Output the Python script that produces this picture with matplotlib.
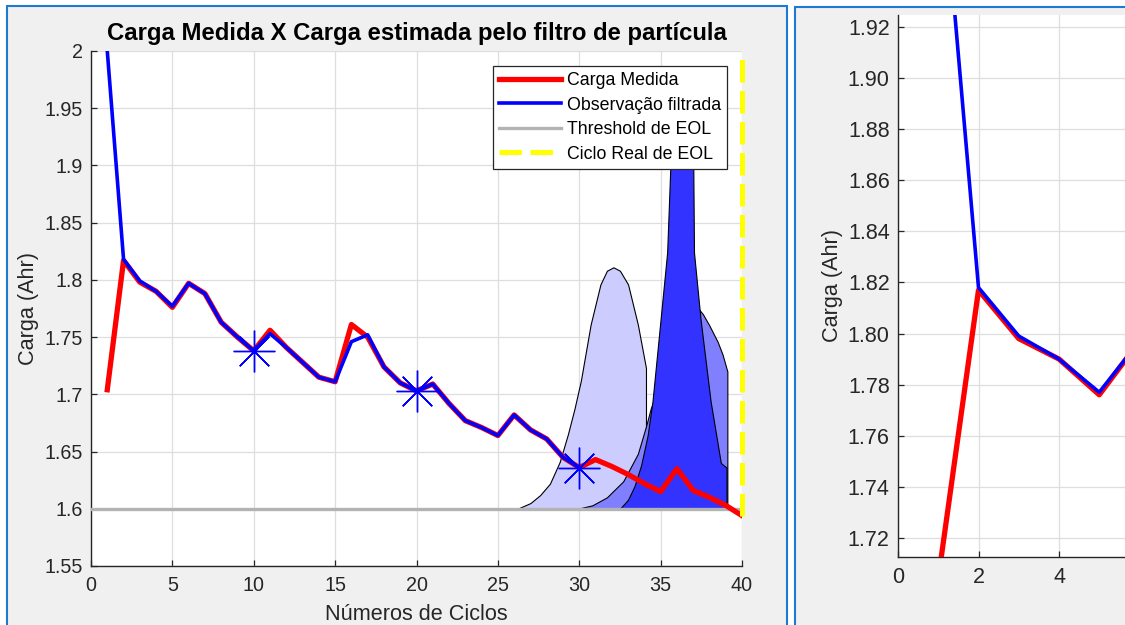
import numpy as np
import matplotlib.pyplot as plt
from matplotlib.patches import Rectangle

# ---------------- data ----------------
cycles = np.arange(1, 41)

# measured capacity (Ahr) per cycle
carga_medida = [1.704, 1.817, 1.798, 1.790, 1.776, 1.797, 1.788, 1.763, 1.750, 1.738,
                1.756, 1.741, 1.728, 1.715, 1.711, 1.761, 1.750, 1.724, 1.710, 1.703,
                1.709, 1.692, 1.677, 1.671, 1.664, 1.682, 1.669, 1.661, 1.645, 1.636,
                1.643, 1.637, 1.630, 1.622, 1.615, 1.635, 1.616, 1.610, 1.603, 1.594]

# particle-filter output, available up to cycle 30
ciclos_filtro = np.arange(1, 31)
obs_filtrada = [2.000, 1.818, 1.799, 1.790, 1.777, 1.797, 1.788, 1.763, 1.750, 1.738,
                1.753, 1.741, 1.728, 1.715, 1.711, 1.746, 1.752, 1.724, 1.710, 1.703,
                1.709, 1.692, 1.677, 1.671, 1.664, 1.682, 1.669, 1.661, 1.645, 1.636]

# prediction instants (asterisks)
ciclos_pred = [10, 20, 30]
carga_pred = [1.738, 1.703, 1.636]

threshold_eol = 1.60
ciclo_real_eol = 40
eol_span = [1.594, 2.0]

# EOL probability densities, drawn on top of the threshold line
pdf1_x = [26.2, 27.0, 27.6, 28.2, 28.8, 29.3, 29.7, 30.1, 30.7, 31.3, 31.7, 32.1,
          32.5, 33.0, 33.6, 34.1, 34.1]
pdf1_y = [1.600, 1.605, 1.612, 1.622, 1.641, 1.665, 1.687, 1.712, 1.761, 1.796, 1.808, 1.811,
          1.808, 1.796, 1.761, 1.723, 1.600]

pdf2_x = [29.9, 30.8, 31.7, 32.7, 33.6, 34.1, 34.4, 34.8, 35.2, 35.6, 36.2, 36.8,
          37.2, 37.6, 38.0, 38.5, 38.8, 39.1, 39.1]
pdf2_y = [1.600, 1.603, 1.610, 1.624, 1.648, 1.672, 1.688, 1.702, 1.725, 1.748, 1.772, 1.782,
          1.777, 1.770, 1.760, 1.746, 1.735, 1.720, 1.600]

pdf3_x = [32.5, 33.0, 33.4, 33.8, 34.2, 34.5, 35.0, 35.4, 35.6, 35.8, 36.3, 36.8,
          37.0, 37.05, 37.45, 38.07, 38.7, 39.05, 39.05]
pdf3_y = [1.600, 1.608, 1.620, 1.638, 1.664, 1.694, 1.766, 1.824, 1.900, 1.940, 1.965, 1.950,
          1.910, 1.824, 1.766, 1.694, 1.640, 1.636, 1.600]

# ---------------- style ----------------
W, H = 1125, 625
plt.rcParams['font.family'] = ['Liberation Sans', 'DejaVu Sans']
plt.rcParams['axes.unicode_minus'] = False

BG = '#f0f0f0'
WIN_EDGE = '#1c7ad2'
AX_COLOR = '#262626'
GRID = '#dedede'


def fx(px):
    return px / W


def fy(py):
    return 1 - py / H


def style_axes(ax, tick_size):
    ax.set_facecolor('white')
    for s in ('top', 'right'):
        ax.spines[s].set_visible(False)
    for s in ('left', 'bottom'):
        ax.spines[s].set_color(AX_COLOR)
        ax.spines[s].set_linewidth(1.0)
    ax.tick_params(direction='in', length=4, width=0.9, colors=AX_COLOR,
                   labelsize=tick_size, labelcolor='#262626')
    ax.tick_params(axis='x', pad=7)
    ax.tick_params(axis='y', pad=6)
    ax.grid(True, color=GRID, lw=0.9)
    ax.set_axisbelow(True)


fig = plt.figure(figsize=(W / 100, H / 100), dpi=100, facecolor='white')

# window frames
fig.add_artist(Rectangle((fx(7), -0.1), fx(780), 1.1 - 6 / H, transform=fig.transFigure,
                         facecolor=BG, edgecolor=WIN_EDGE, lw=1.5, zorder=-10))
fig.add_artist(Rectangle((fx(795), -0.1), fx(400), 1.1 - 7 / H, transform=fig.transFigure,
                         facecolor=BG, edgecolor=WIN_EDGE, lw=1.5, zorder=-10))

# ---------------- main axes ----------------
ax = fig.add_axes([fx(91), fy(566), fx(651), 515 / H])
style_axes(ax, 14.2)

ax.fill_between(pdf1_x, threshold_eol, pdf1_y, facecolor='#ccccff', edgecolor='black', lw=0.8, zorder=2)
ax.fill_between(pdf2_x, threshold_eol, pdf2_y, facecolor='#8080ff', edgecolor='black', lw=0.8, zorder=2.1)
ax.fill_between(pdf3_x, threshold_eol, pdf3_y, facecolor='#3333ff', edgecolor='black', lw=0.8, zorder=2.2)

ax.plot(cycles, carga_medida, color='#ff0000', lw=3.8, zorder=4, label='Carga Medida')
ax.plot(ciclos_filtro, obs_filtrada, color='#0000ff', lw=2.6, zorder=5, label='Observação filtrada')
ax.plot([0, ciclo_real_eol], [threshold_eol, threshold_eol], color='#b3b3b3', lw=2.4, zorder=3,
        label='Threshold de EOL')
ax.plot([ciclo_real_eol, ciclo_real_eol], eol_span, color='#ffff00', lw=3.6, ls=(0, (4.5, 1.7)),
        zorder=6, label='Ciclo Real de EOL', clip_on=False)
ax.plot(ciclos_pred, carga_pred, ls='none', marker=(8, 2, 0), ms=30, mew=1.0,
        color='#0000ff', zorder=6)

ax.set_xlim(0, 40)
ax.set_ylim(1.55, 2.0)
ax.set_xticks(range(0, 41, 5))
ax.set_yticks(np.arange(1.55, 2.001, 0.05))
ax.set_yticklabels(['1.55', '1.6', '1.65', '1.7', '1.75', '1.8', '1.85', '1.9', '1.95', '2'])
ax.set_title('Carga Medida X Carga estimada pelo filtro de partícula', fontsize=17.2,
             fontweight='bold', pad=8)
ax.set_xlabel('Números de Ciclos', fontsize=15.6, color='#262626')
ax.xaxis.set_label_coords(0.5, -0.073)
ax.set_ylabel('Carga (Ahr)', fontsize=15.6, color='#262626')
ax.yaxis.set_label_coords(-0.08, 0.5)

leg = ax.legend(loc='upper right', bbox_to_anchor=(fx(727), fy(66)), bbox_transform=fig.transFigure,
                borderaxespad=0, fontsize=12.8, handlelength=3.5, handletextpad=0.3,
                labelspacing=0.42, borderpad=0.35, fancybox=False, framealpha=1, edgecolor=AX_COLOR)
leg.get_frame().set_linewidth(0.9)
leg.set_zorder(10)

# ---------------- zoomed axes ----------------
ax2 = fig.add_axes([fx(898), fy(557), fx(322), 542 / H])
style_axes(ax2, 15.5)
ax2.plot(cycles, carga_medida, color='#ff0000', lw=3.8, zorder=4)
ax2.plot(ciclos_filtro, obs_filtrada, color='#0000ff', lw=2.6, zorder=5)
ax2.set_xlim(0, 8)
ax2.set_ylim(1.7125, 1.9247)
ax2.set_xticks([0, 2, 4])
ax2.set_yticks(np.arange(1.72, 1.921, 0.02))
ax2.set_yticklabels([f'{v:.2f}' for v in np.arange(1.72, 1.921, 0.02)])
ax2.set_ylabel('Carga (Ahr)', fontsize=15.6, color='#262626')
ax2.yaxis.set_label_coords(-0.17, 0.5)

fig.savefig('out.png', dpi=100, facecolor=fig.get_facecolor())
